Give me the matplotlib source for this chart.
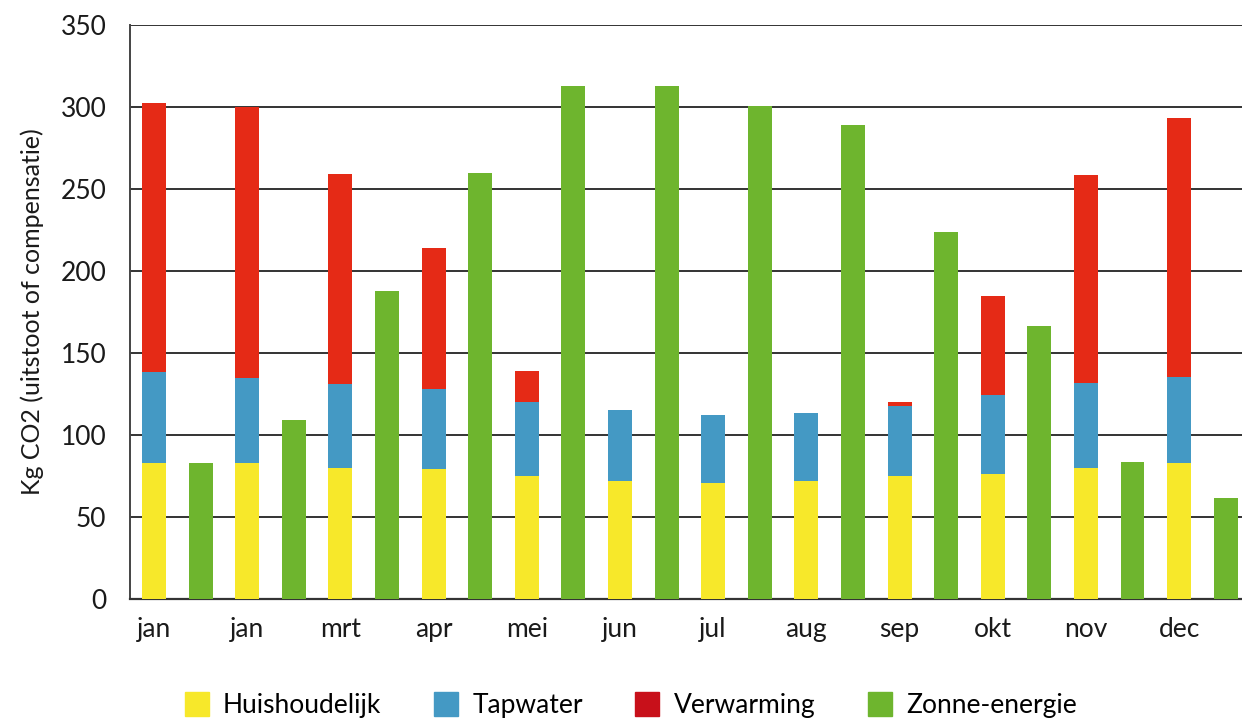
import matplotlib.pyplot as plt
from matplotlib.patches import Patch

plt.rcParams['font.family'] = ['Lato', 'DejaVu Sans']

maanden = ['jan', 'jan', 'mrt', 'apr', 'mei', 'jun', 'jul', 'aug', 'sep', 'okt', 'nov', 'dec']
huishoudelijk = [83, 83, 80, 79, 75, 72, 71, 72, 75, 76.5, 80, 83]
tapwater = [55.5, 52, 51, 49, 45, 43, 41, 41.5, 42.5, 48, 52, 52.5]
verwarming = [164, 165, 128, 86, 19, 0, 0, 0, 2.5, 60, 126.5, 158]
zonne_energie = [83, 109, 187.5, 260, 313, 313, 300.5, 289, 223.5, 166.5, 83.5, 61.5]

geel = '#F7E82A'
blauw = '#4499C4'
rood = '#E52A16'
rood_legenda = '#C8101A'
groen = '#6EB52E'

fig = plt.figure(figsize=(12.42, 7.18), dpi=100)
ax = fig.add_axes([130 / 1242, 1 - 599 / 718, 1 - 130 / 1242, (599 - 25) / 718])

x_stapel = [2 * i for i in range(len(maanden))]
x_zon = [2 * i + 1 for i in range(len(maanden))]
breedte = 0.515

onder2 = [h + t for h, t in zip(huishoudelijk, tapwater)]
ax.bar(x_stapel, huishoudelijk, breedte, color=geel, zorder=3)
ax.bar(x_stapel, tapwater, breedte, bottom=huishoudelijk, color=blauw, zorder=3)
ax.bar(x_stapel, verwarming, breedte, bottom=onder2, color=rood, zorder=3)
ax.bar(x_zon, zonne_energie, breedte, color=groen, zorder=3)

ax.set_xlim(-0.515, 23.35)
ax.set_ylim(0, 350)
ax.set_yticks(range(0, 351, 50))
ax.set_xticks(x_stapel)
ax.set_xticklabels(maanden)
ax.yaxis.grid(True, color='#333333', linewidth=1.4, zorder=0)
ax.set_axisbelow(True)

for s in ['top', 'right']:
    ax.spines[s].set_visible(False)
ax.spines['left'].set_color('#444444')
ax.spines['bottom'].set_color('#333333')
ax.spines['left'].set_linewidth(1.4)
ax.spines['bottom'].set_linewidth(1.6)

ax.tick_params(axis='both', length=0, labelsize=19, colors='#1a1a1a')
ax.tick_params(axis='y', pad=17)
ax.tick_params(axis='x', pad=13)
ax.set_ylabel('Kg CO2 (uitstoot of compensatie)', fontsize=18, color='#1a1a1a', labelpad=12)

handles = [Patch(color=geel), Patch(color=blauw), Patch(color=rood_legenda), Patch(color=groen)]
labels = ['Huishoudelijk', 'Tapwater', 'Verwarming', 'Zonne-energie']
fig.legend(handles, labels, loc='center left', bbox_to_anchor=(185 / 1242, 1 - 705 / 718),
           ncol=4, frameon=False, fontsize=19, handlelength=0.91, handleheight=1.0,
           handletextpad=0.53, columnspacing=2.0, borderpad=0, borderaxespad=0)

fig.savefig('out.png', dpi=100)
